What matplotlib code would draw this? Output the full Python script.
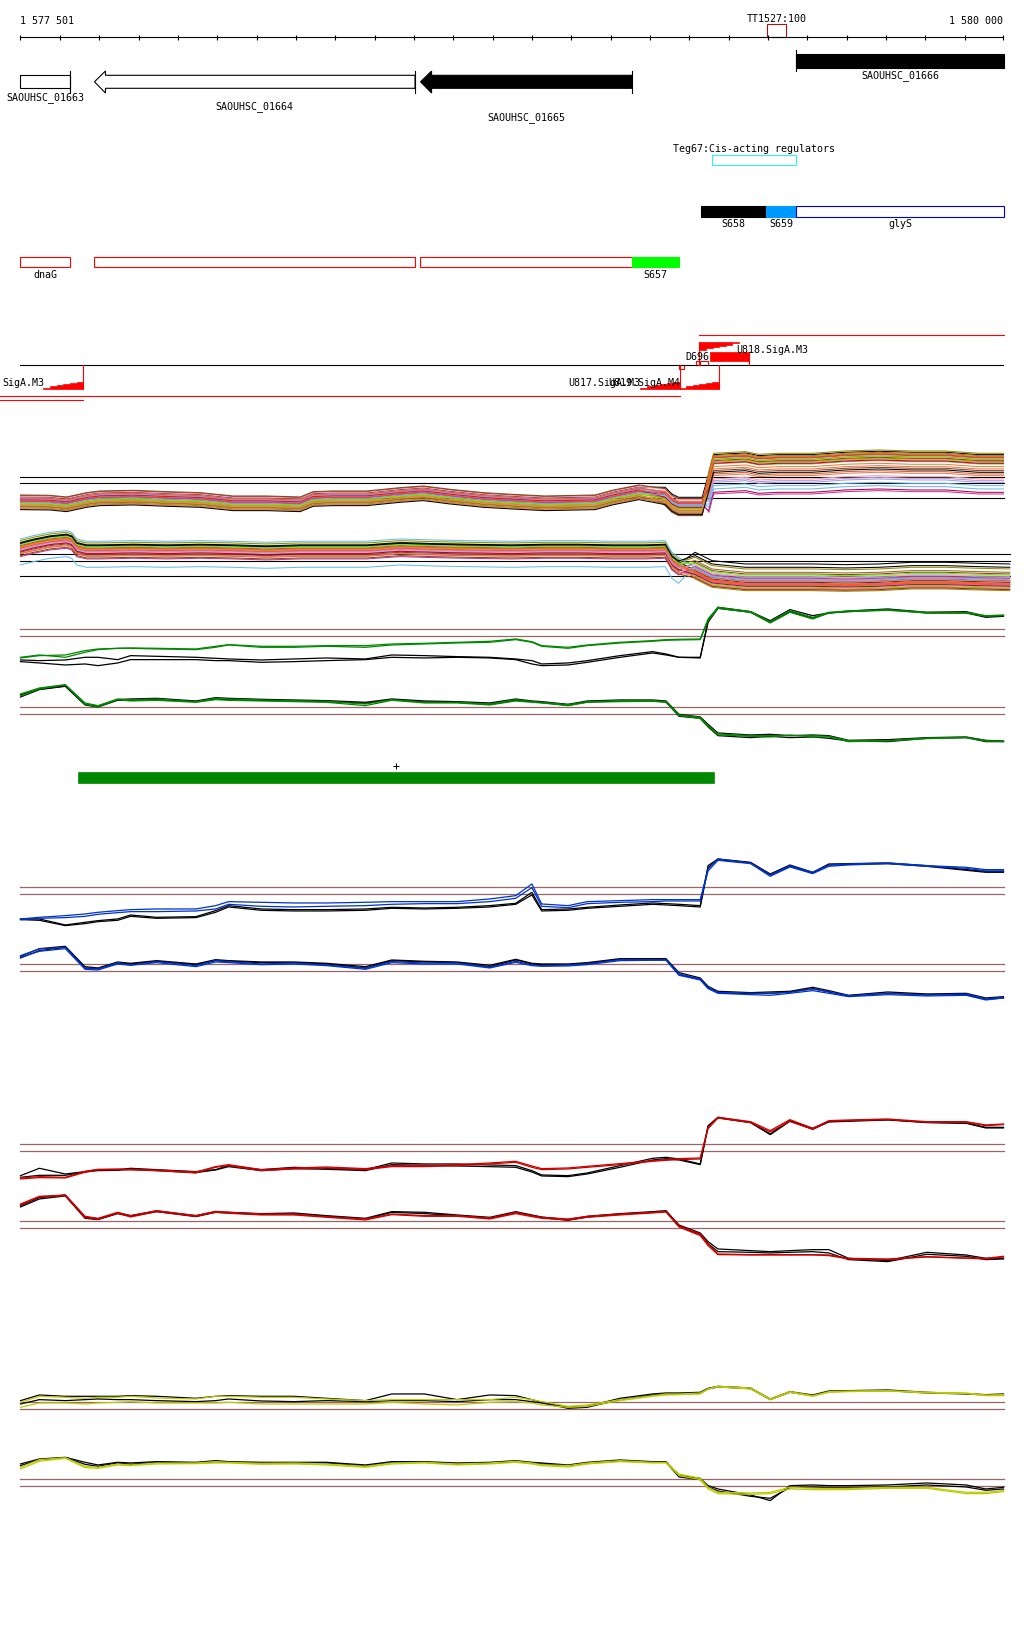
import numpy as np
import matplotlib
matplotlib.use('Agg')
import matplotlib.pyplot as plt
from matplotlib.patches import Rectangle, Polygon

# region shown: 1 577 501 .. 1 580 000, positions below are offsets from START
START = 1577501
END = 1580000
BP_PER_PX = (END - START) / 983.0

# ---------------- annotation data ----------------
gene_names = ['SAOUHSC_01663', 'SAOUHSC_01664', 'SAOUHSC_01665', 'SAOUHSC_01666']
gene_start = [0, 188, 1017, 1972]
gene_end = [127, 1003, 1555, 2500]
gene_filled = [False, False, True, True]
gene_arrow = [False, True, True, False]
gene_row = ['rev', 'rev', 'rev', 'fwd']
gene_label_y = [97.7, 107, 118, 76]

term_name = 'TT1527:100'
term_start, term_end = 1898, 1947

reg_name = 'Teg67:Cis-acting regulators'
reg_start, reg_end = 1759, 1972

fwd_seg_names = ['S658', 'S659', 'glyS']
fwd_seg_start = [1730, 1895, 1972]
fwd_seg_end = [1895, 1972, 2500]
fwd_seg_face = ['black', '#0099FF', 'white']
fwd_seg_edge = ['black', '#0099FF', '#0000DD']

rev_seg_names = ['dnaG', '', '', 'S657']
rev_seg_start = [0, 188, 1016, 1555]
rev_seg_end = [127, 1004, 1555, 1673]
rev_seg_face = ['white', 'white', 'white', '#00FF00']
rev_seg_edge = ['red', 'red', 'red', '#00FF00']

# promoters (stair wedges)
prom_names = ['SigA.M3', 'U817.SigA.M3', 'U819.SigA.M4', 'U818.SigA.M3']
prom_start = [58, 1576, 1676, 1726]
prom_end = [160, 1676, 1775, 1826]
prom_side = ['below', 'below', 'below', 'above']

# transcript extents (red lines)
tx_start = [-60, -60, 1726]
tx_end = [1676, 160, 2500]
tx_y = [397.3, 401.0, 336.0]

# condition bar
bar_start, bar_end = 146, 1764

# ---------------- multi-condition track ----------------
up_pos = [0, 75, 117, 168, 202, 287, 372, 456, 499, 541, 626, 711, 744, 795, 880, 965, 1024, 1092, 1177, 1249,
          1334, 1461, 1504, 1572, 1639, 1656, 1673, 1733, 1750, 1762, 1843, 1877, 1927, 2012, 2097, 2182, 2266,
          2351, 2436, 2499]
up_base = [-49, -50, -55, -42, -37, -35, -39, -42, -47, -52, -52, -55, -39, -37, -37, -27, -22, -32, -42, -47,
           -52, -49, -35, -19, -22, -42, -52, -52, 13, 68, 73, 65, 68, 68, 75, 78, 75, 75, 68, 68]
up_colors = ['#000000', '#884422', '#FF5533', '#66BBEE', '#998800', '#AA0055', '#66EE00', '#AA99DD', '#EE7755',
             '#000044', '#DD8833', '#CC6633', '#FF99AA', '#998800', '#CC3399', '#996633', '#FF5533', '#66BBEE',
             '#AA0055', '#66EE00', '#EE7755', '#DD8833', '#884422', '#AA99DD', '#000000', '#FF5533']
up_off_left = [8, 12, 2, 4, -22, -4, -10, 6, -2, -7, -16, -13, 10, -25, -5, -20, 5, 0, -1, -12, -27, -18, 14, -8,
               -30, -3]
up_off_mid = [10, -45, -2, -8, -30, -14, -18, -4, -24, -10, -35, -22, 4, -40, -6, -38, -4, -12, -20, -25, -32,
              -28, 6, -15, -42, -8]
up_off_right = [18, 10, 4, -85, 22, -95, -5, -65, -25, 0, -10, -40, -55, 15, -100, 8, 12, -75, -8, 2, -45, -18,
                -30, -60, -35, -2]

lo_pos = [0, 33, 75, 117, 130, 143, 168, 202, 287, 372, 456, 541, 626, 711, 795, 880, 965, 1049, 1134, 1249,
          1334, 1419, 1504, 1588, 1639, 1656, 1673, 1715, 1758, 1800, 1843, 1927, 2012, 2097, 2182, 2266, 2351,
          2436, 2515]
lo_base = [42, 52, 62, 67, 62, 42, 35, 35, 37, 35, 37, 35, 32, 35, 35, 35, 42, 39, 37, 35,
           37, 37, 35, 35, 37, 2, -13, -28, -53, -58, -63, -63, -63, -65, -63, -58, -58, -61, -63]
lo_colors = ['#000000', '#998800', '#FF5533', '#66BBEE', '#884422', '#AA99DD', '#AA0055', '#66EE00', '#DD8833',
             '#EE7755', '#000044', '#CC6633', '#FF99AA', '#998800', '#CC3399', '#996633', '#FF5533', '#66BBEE',
             '#AA0055', '#66EE00', '#EE7755', '#DD8833', '#884422', '#000000', '#AA99DD', '#FF5533']
lo_off_left = [5, 10, -2, -53, -15, 8, -5, 15, -10, 2, 12, -20, -8, 20, -28, 4, -4, 25, -12, 7, -18, 0, -25, 14,
               -6, 3]
lo_off_right = [55, 40, -5, 15, 25, -10, 5, -15, 10, -20, 0, -8, 18, -25, 12, 30, -3, 8, -12, 22, -18, 2, -22,
                45, 6, -6]

# ---------------- per-condition tracks (fwd / rev) ----------------
pos = [0, 48, 114, 164, 197, 247, 280, 346, 446, 496, 529, 612, 695, 778, 877, 944, 1027, 1110, 1193, 1259,
       1300, 1325, 1392, 1441, 1524, 1607, 1641, 1674, 1728, 1748, 1773, 1856, 1906, 1956, 2014, 2055, 2105,
       2205, 2304, 2404, 2454, 2499]

green_fwd_a = [-65, -58, -56, -43, -38, -36, -35, -36, -38, -30, -25, -30, -30, -28, -28, -23, -21, -18, -15, -8,
               -16, -28, -33, -26, -18, -13, -10, -9, -8, 52, 87, 74, 44, 77, 57, 72, 76, 80, 72, 72, 62, 64]
green_fwd_b = [-63, -56, -63, -48, -40, -36, -36, -38, -40, -33, -26, -33, -33, -30, -33, -26, -23, -20, -18, -10,
               -18, -30, -36, -28, -20, -15, -12, -11, -10, 47, 84, 72, 40, 72, 52, 70, 74, 78, 70, 70, 60, 62]
green_fwd_k1 = [-71, -73, -71, -63, -63, -70, -58, -60, -63, -66, -68, -71, -68, -65, -68, -56, -58, -61, -63, -68,
                -73, -83, -80, -73, -58, -46, -53, -63, -65, 47, 87, 74, 47, 80, 62, 70, 76, 82, 72, 74, 60, 62]
green_fwd_k2 = [-76, -80, -86, -83, -88, -80, -70, -70, -70, -73, -73, -78, -76, -73, -70, -63, -65, -63, -65, -70,
                -83, -88, -86, -78, -63, -50, -56, -63, -63, 42, 84, 72, 42, 74, 54, 70, 74, 80, 70, 70, 57, 60]
green_rev_a = [61, 79, 89, 34, 26, 46, 43, 46, 38, 48, 46, 43, 41, 39, 31, 44, 36, 36, 31, 44,
               38, 36, 29, 38, 41, 41, 38, -2, -9, -34, -59, -64, -64, -64, -64, -66, -79, -79, -71, -69, -79, -81]
green_rev_b = [55, 76, 88, 30, 22, 44, 40, 42, 36, 44, 42, 40, 38, 36, 26, 42, 34, 34, 28, 40,
               36, 34, 26, 36, 38, 39, 36, -4, -12, -36, -62, -66, -68, -62, -68, -68, -82, -80, -73, -70, -80, -82]
green_rev_k1 = [58, 76, 85, 30, 24, 44, 46, 48, 40, 50, 48, 45, 43, 41, 36, 46, 40, 38, 34, 46,
                40, 38, 30, 40, 43, 43, 40, 0, -8, -30, -56, -62, -60, -64, -62, -64, -78, -76, -70, -68, -78, -80]
green_rev_k2 = [52, 74, 84, 28, 22, 42, 42, 44, 38, 46, 44, 42, 40, 38, 33, 44, 37, 36, 30, 42,
                38, 35, 27, 37, 40, 40, 37, -6, -12, -38, -64, -70, -66, -70, -68, -72, -80, -82, -72, -70, -82, -82]

blue_fwd_a = [-74, -69, -64, -59, -54, -49, -46, -44, -44, -34, -22, -24, -26, -26, -24, -22, -22, -22, -14, -4,
              31, -29, -34, -22, -19, -16, -16, -16, -16, 76, 106, 94, 58, 86, 66, 88, 91, 94, 86, 81, 74, 74]
blue_fwd_b = [-76, -72, -70, -66, -60, -55, -52, -52, -50, -44, -30, -36, -38, -36, -34, -30, -28, -28, -22, -12,
              20, -36, -40, -28, -24, -22, -20, -20, -20, 70, 102, 92, 54, 82, 62, 84, 88, 92, 84, 78, 70, 70]
blue_fwd_k1 = [-74, -74, -92, -84, -79, -74, -62, -69, -67, -49, -34, -44, -46, -46, -44, -39, -41, -39, -34, -27,
               6, -46, -44, -39, -32, -26, -28, -30, -34, 86, 106, 96, 61, 88, 66, 91, 92, 94, 86, 74, 69, 69]
blue_fwd_k2 = [-76, -78, -94, -88, -82, -78, -66, -72, -70, -54, -38, -48, -50, -50, -48, -42, -44, -42, -38, -30,
               -2, -50, -48, -42, -36, -30, -32, -34, -38, 80, 104, 94, 58, 84, 64, 88, 90, 92, 84, 72, 66, 66]
blue_rev_a = [47, 67, 72, 9, 7, 25, 19, 29, 17, 32, 29, 22, 25, 19, 9, 29, 25, 25, 12, 30,
              19, 17, 19, 22, 35, 35, 35, -8, -23, -48, -63, -66, -66, -63, -53, -61, -73, -66, -71, -68, -83, -78]
blue_rev_b = [42, 60, 68, 6, 4, 22, 18, 26, 14, 28, 26, 20, 22, 17, 6, 26, 22, 22, 10, 27,
              17, 15, 16, 20, 32, 33, 33, -12, -26, -52, -66, -70, -72, -66, -58, -66, -76, -70, -74, -72, -86, -80]
blue_rev_k1 = [45, 68, 75, 14, 10, 28, 24, 32, 22, 35, 32, 28, 28, 24, 14, 34, 30, 28, 18, 36,
               24, 22, 22, 26, 38, 38, 38, -4, -20, -45, -60, -64, -62, -60, -48, -58, -72, -62, -68, -66, -80, -76]
blue_rev_k2 = [40, 62, 72, 10, 8, 24, 22, 30, 20, 32, 30, 26, 26, 22, 10, 32, 28, 26, 14, 34,
               22, 20, 20, 24, 36, 36, 36, -10, -24, -50, -64, -67, -66, -62, -52, -62, -74, -66, -70, -70, -84, -80]

red_fwd_a = [-83, -79, -80, -63, -56, -55, -56, -58, -65, -48, -43, -58, -53, -50, -55, -46, -46, -43, -38, -33,
             -48, -55, -53, -48, -40, -30, -27, -25, -23, 72, 102, 89, 62, 95, 69, 92, 94, 97, 89, 89, 79, 82]
red_fwd_b = [-80, -76, -78, -60, -54, -53, -54, -56, -62, -46, -40, -55, -50, -47, -52, -43, -43, -40, -35, -30,
             -44, -52, -50, -45, -37, -28, -25, -22, -20, 68, 100, 86, 58, 90, 66, 90, 92, 95, 87, 87, 77, 80]
red_fwd_k1 = [-73, -51, -68, -61, -55, -55, -51, -55, -61, -55, -43, -55, -48, -51, -55, -35, -38, -38, -41, -43,
              -58, -71, -73, -65, -43, -21, -18, -23, -38, 77, 102, 87, 52, 92, 69, 89, 92, 95, 87, 85, 72, 72]
red_fwd_k2 = [-78, -72, -72, -62, -58, -57, -54, -58, -64, -56, -46, -58, -52, -54, -58, -40, -42, -44, -46, -48,
              -62, -74, -76, -68, -48, -26, -22, -26, -40, 74, 100, 86, 50, 90, 66, 88, 90, 94, 86, 84, 70, 70]
red_rev_a = [73, 96, 100, 36, 30, 48, 38, 53, 38, 51, 48, 43, 43, 35, 28, 43, 38, 38, 31, 48,
             38, 33, 28, 36, 43, 48, 51, 8, -17, -47, -77, -79, -79, -79, -79, -80, -90, -92, -85, -89, -90, -84]
red_rev_b = [70, 94, 98, 32, 27, 45, 34, 50, 36, 48, 45, 40, 40, 33, 25, 41, 36, 36, 28, 44,
             35, 30, 25, 33, 40, 46, 49, 4, -22, -52, -79, -80, -80, -80, -80, -82, -92, -94, -86, -90, -92, -86]
red_rev_k1 = [68, 92, 100, 34, 28, 46, 38, 52, 38, 50, 48, 44, 46, 38, 30, 50, 48, 40, 33, 50,
              40, 34, 26, 36, 44, 50, 53, 10, -14, -40, -62, -67, -70, -67, -64, -64, -90, -97, -72, -80, -90, -90]
red_rev_k2 = [64, 88, 97, 30, 26, 44, 36, 50, 35, 48, 46, 42, 43, 36, 28, 48, 44, 38, 30, 47,
              38, 32, 24, 34, 42, 48, 50, 6, -18, -46, -70, -72, -74, -72, -70, -74, -94, -100, -78, -84, -94, -92]

yellow_fwd_a = [21, 39, 36, 33, 36, 36, 39, 34, 31, 39, 39, 36, 36, 31, 26, 29, 29, 29, 29, 36,
                29, 23, 9, 13, 29, 41, 46, 46, 49, 61, 69, 64, 31, 53, 41, 53, 55, 56, 51, 49, 43, 44]
yellow_fwd_b = [6, 19, 19, 16, 19, 21, 23, 19, 19, 19, 21, 16, 16, 16, 16, 21, 16, 13, 21, 23,
                19, 13, 6, 9, 26, 39, 43, 44, 46, 61, 67, 61, 29, 51, 39, 51, 53, 55, 49, 47, 41, 41]
yellow_fwd_k1 = [26, 43, 39, 39, 39, 39, 41, 39, 33, 39, 41, 39, 39, 33, 26, 46, 46, 29, 43, 41,
                 29, 21, 6, 9, 33, 46, 49, 49, 51, 63, 69, 64, 31, 53, 43, 55, 56, 58, 51, 47, 44, 46]
yellow_fwd_k2 = [16, 29, 26, 29, 31, 29, 29, 26, 23, 26, 31, 25, 23, 26, 23, 26, 26, 23, 29, 29,
                 23, 19, 3, 6, 29, 43, 46, 46, 48, 61, 67, 62, 29, 51, 41, 53, 54, 56, 49, 46, 43, 43]
yellow_rev_a = [57, 80, 86, 60, 57, 67, 64, 70, 70, 74, 72, 69, 70, 67, 60, 70, 72, 67, 70, 75,
                70, 65, 62, 70, 77, 72, 72, 37, 24, -3, -18, -20, -18, -3, -6, -6, -6, -3, -3, -18, -18, -13]
yellow_rev_b = [52, 75, 84, 56, 54, 64, 62, 67, 68, 70, 70, 66, 67, 64, 57, 67, 70, 64, 67, 72,
                67, 62, 58, 67, 74, 70, 70, 32, 20, -8, -22, -24, -22, -8, -10, -10, -10, -6, -6, -22, -22, -16]
yellow_rev_k1 = [67, 82, 87, 72, 64, 72, 70, 74, 72, 77, 74, 72, 72, 72, 64, 74, 74, 70, 72, 77,
                 72, 70, 64, 72, 79, 74, 74, 32, 24, 2, -8, -26, -43, 2, 4, 2, 2, 4, 10, 4, -8, -3]
yellow_rev_k2 = [62, 80, 86, 66, 60, 70, 66, 72, 70, 74, 72, 70, 70, 70, 61, 72, 72, 67, 70, 74,
                 70, 67, 62, 70, 76, 72, 72, 28, 20, -2, -14, -30, -36, -4, -2, -4, -4, -2, 4, -2, -12, -8]

thresholds = [0, 21]

# ---------------- drawing ----------------
fig = plt.figure(figsize=(10.24, 16.4), dpi=100)
ax = fig.add_axes([0, 0, 1, 1])
ax.set_xlim(-20.5 * BP_PER_PX, (1024 - 20.5) * BP_PER_PX)
ax.set_ylim(1640, 0)
ax.axis('off')

FONT = dict(family='DejaVu Sans Mono', fontsize=7.2)

# ruler
ax.plot([0, END - START], [38.3, 38.3], color='black', lw=0.8)
ticks = list(range(0, END - START, 100)) + [END - START]
ax.vlines(ticks, 36, 40.7, color='black', lw=0.8)
ax.text(0, 20.5, '1 577 501', ha='left', va='center', **FONT)
ax.text(END - START, 20.5, '1 580 000', ha='right', va='center', **FONT)
ax.add_patch(Rectangle((term_start, 25.3), term_end - term_start, 13, fill=False, ec='#AA1111', lw=0.8))
ax.text((term_start + term_end) / 2, 19, term_name, ha='center', va='center', **FONT)

# genes
head = 28
for name, s, e, filled, arrow, row, ly in zip(gene_names, gene_start, gene_end, gene_filled, gene_arrow,
                                              gene_row, gene_label_y):
    fc = 'black' if filled else 'white'
    if row == 'rev':
        y0, y1, t0, t1 = 76.3, 89.3, 72, 94
        if arrow:
            ym = (y0 + y1) / 2
            pts = [(s, ym), (s + head, t0), (s + head, y0), (e, y0), (e, y1), (s + head, y1), (s + head, t1)]
            ax.add_patch(Polygon(pts, closed=True, fc=fc, ec='black', lw=0.8))
        else:
            ax.add_patch(Rectangle((s, y0), e - s, y1 - y0, fc=fc, ec='black', lw=0.8))
        ax.plot([e, e], [t0, t1], color='black', lw=0.8)
    else:
        y0, y1 = 55, 69
        ax.add_patch(Rectangle((s, y0), e - s, y1 - y0, fc=fc, ec='black', lw=0.8))
        ax.plot([s, s], [51, 72], color='black', lw=0.8)
    ax.text((s + e) / 2, ly, name, ha='center', va='center', **FONT)

# regulator
ax.add_patch(Rectangle((reg_start, 155.7), reg_end - reg_start, 10.6, fill=False, ec='#33EEEE', lw=0.8))
ax.text((reg_start + reg_end) / 2, 149, reg_name, ha='center', va='center', **FONT)

# segments
for name, s, e, fc, ec in zip(fwd_seg_names, fwd_seg_start, fwd_seg_end, fwd_seg_face, fwd_seg_edge):
    ax.add_patch(Rectangle((s, 207.3), e - s, 10.4, fc=fc, ec=ec, lw=0.8))
    ax.text((s + e) / 2, 224.3, name, ha='center', va='center', **FONT)
for name, s, e, fc, ec in zip(rev_seg_names, rev_seg_start, rev_seg_end, rev_seg_face, rev_seg_edge):
    ax.add_patch(Rectangle((s, 258.3), e - s, 9.7, fc=fc, ec=ec, lw=0.8))
    if name:
        ax.text((s + e) / 2, 275.3, name, ha='center', va='center', **FONT)


def stair(s, e, ybase, h, tall_right, n=6):
    dx = (e - s) / n
    pts = [(s, ybase)]
    for i in range(n):
        frac = (i + 1) / n if tall_right else (n - i) / n
        yy = ybase + h * frac
        pts += [(s + i * dx, yy), (s + (i + 1) * dx, yy)]
    pts.append((e, ybase))
    ax.add_patch(Polygon(pts, closed=True, fc='red', ec='red', lw=0.5))


# transcription units row
LINE_Y = 366.3
ax.plot([0, END - START], [LINE_Y, LINE_Y], color='black', lw=0.8)
for s, e, y in zip(tx_start, tx_end, tx_y):
    ax.plot([s, e], [y, y], color='red', lw=0.8)
for name, s, e, side in zip(prom_names, prom_start, prom_end, prom_side):
    if side == 'below':
        stair(s, e, 389.7, -7, True)
        ax.plot([e, e], [LINE_Y, 389.7], color='red', lw=0.8)
        if name == 'SigA.M3':
            ax.text(-47, 383.3, name, ha='left', va='center', **FONT)
        else:
            ax.text(s, 383.3, name, ha='right', va='center', **FONT)
    else:
        stair(s, e, 343, 7.7, False)
        ax.plot([s, s], [343, LINE_Y], color='red', lw=0.8)
        ax.text(1820, 350, name, ha='left', va='center', **FONT)
ax.add_patch(Rectangle((1752, 353.3), 100, 8.4, fc='red', ec='red', lw=0.5))
ax.plot([1852, 1852], [353.3, LINE_Y], color='red', lw=0.8)
ax.add_patch(Rectangle((1716, 362.3), 33, 4, fill=False, ec='red', lw=0.8))
ax.plot([1727, 1727], [362.3, LINE_Y], color='red', lw=0.8)
ax.add_patch(Rectangle((1673, LINE_Y), 15, 4, fill=False, ec='red', lw=0.8))
ax.text(1750, 357.3, 'D696', ha='right', va='center', **FONT)

# multi-condition track
UP_REF, LO_REF = 484.3, 562.3
for v in [18, 0, -45]:
    ax.plot([0, 2500], [UP_REF - v / 3] * 2, color='black', lw=0.8)
for v in [22, 0, -45]:
    ax.plot([0, 2515], [LO_REF - v / 3] * 2, color='black', lw=0.8)

up_pos_a = np.array(up_pos)
up_base_a = np.array(up_base)
for c, ol, om, orr in zip(up_colors, up_off_left, up_off_mid, up_off_right):
    off = np.where(up_pos_a < 1600, ol, np.where(up_pos_a < 1745, om, orr))
    ax.plot(up_pos_a, UP_REF - (up_base_a + off) / 3, color=c, lw=0.75)

lo_pos_a = np.array(lo_pos)
lo_base_a = np.array(lo_base)
for c, ol, orr in zip(lo_colors, lo_off_left, lo_off_right):
    off = np.where(lo_pos_a < 1700, ol, orr)
    ax.plot(lo_pos_a, LO_REF - (lo_base_a + off) / 3, color=c, lw=0.75)

# per-condition panels
panels = [
    ('#008800', 637.3, [green_fwd_k1, green_fwd_k2], [green_fwd_a, green_fwd_b]),
    ('#008800', 715.3, [green_rev_k1, green_rev_k2], [green_rev_a, green_rev_b]),
    ('#0033CC', 895.3, [blue_fwd_k1, blue_fwd_k2], [blue_fwd_a, blue_fwd_b]),
    ('#0033CC', 972.3, [blue_rev_k1, blue_rev_k2], [blue_rev_a, blue_rev_b]),
    ('#CC0000', 1152.3, [red_fwd_k1, red_fwd_k2], [red_fwd_a, red_fwd_b]),
    ('#CC0000', 1229.3, [red_rev_k1, red_rev_k2], [red_rev_a, red_rev_b]),
    ('#BBCC00', 1410.3, [yellow_fwd_k1, yellow_fwd_k2], [yellow_fwd_a, yellow_fwd_b]),
    ('#BBCC00', 1487.3, [yellow_rev_k1, yellow_rev_k2], [yellow_rev_a, yellow_rev_b]),
]
pos_a = np.array(pos)
for color, ref, blacks, coloured in panels:
    for t in thresholds:
        ax.plot([0, 2500], [ref - t / 3] * 2, color='#996666', lw=0.9)
    for k in blacks:
        ax.plot(pos_a, ref - np.array(k) / 3, color='black', lw=0.9)
    for c in coloured:
        ax.plot(pos_a, ref - np.array(c) / 3, color=color, lw=0.9)

# condition bar
ax.add_patch(Rectangle((bar_start, 773), bar_end - bar_start, 10.7, fc='#008800', ec='#008800', lw=0.5))
ax.plot([(bar_start + bar_end) / 2], [766.7], marker='+', color='black', ms=4, mew=0.7)

fig.savefig('out.png', dpi=100)
